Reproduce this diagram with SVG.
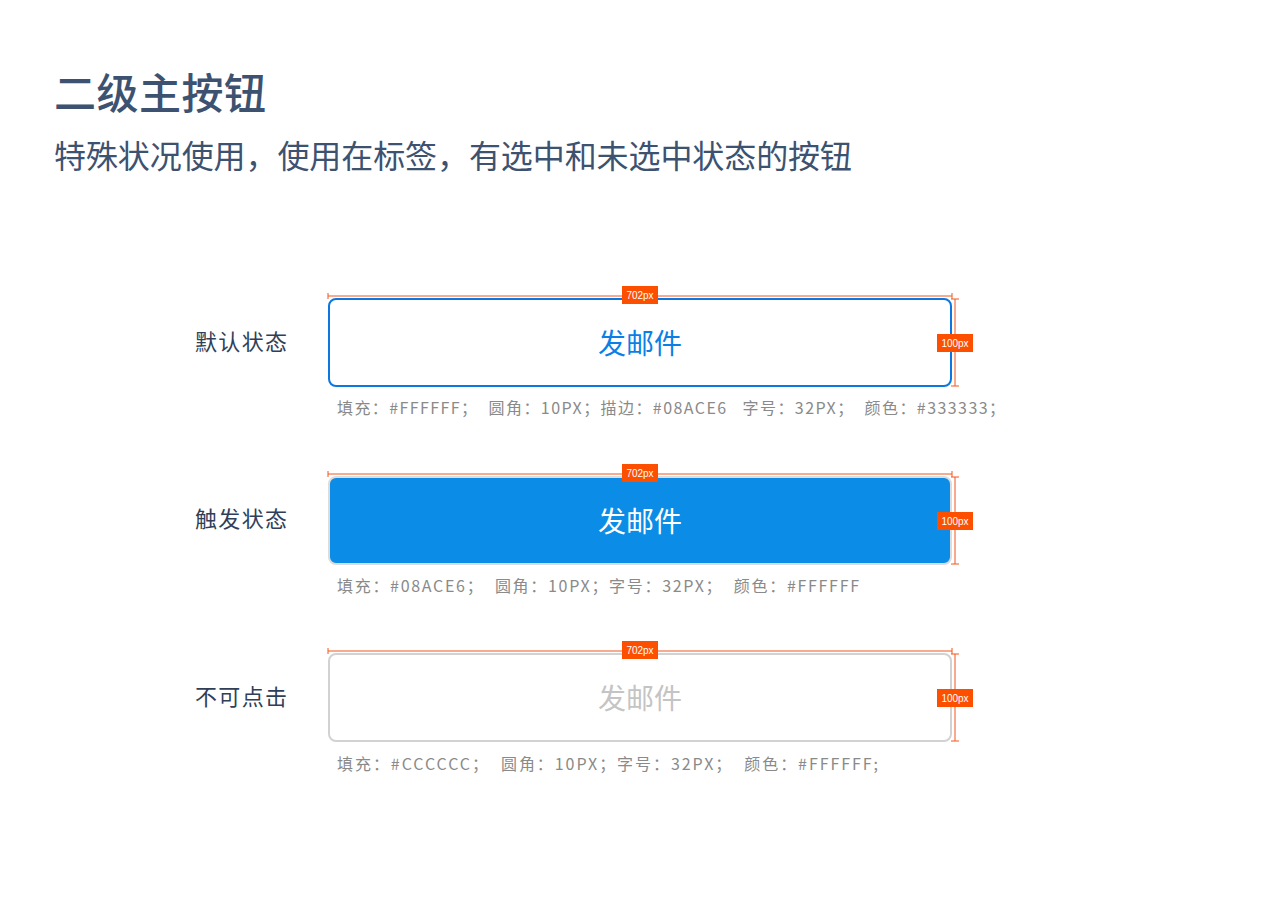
<svg xmlns="http://www.w3.org/2000/svg" width="1280" height="910" viewBox="0 0 1280 910">
<style>
text{font-family:"Noto Sans CJK SC","Liberation Sans",sans-serif}
.h1{font-size:42px;font-weight:500;fill:#3d5270}
.h2{font-size:32px;fill:#3d5270}
.lab{font-size:22px;fill:#2f3f5a}
.spec{font-size:16px;fill:#8a8a8a}
.dim{stroke:#f0561e;stroke-width:1;fill:none}
.tag{fill:#fc5000}
.tt{font-family:"Liberation Sans",sans-serif;font-size:10px;fill:#fff;text-anchor:middle}
.bt{font-size:28px;text-anchor:middle}
</style>
<rect width="1280" height="910" fill="#fff"/>
<text class="h1" x="54" y="109" textLength="212">二级主按钮</text>
<text class="h2" x="54" y="168" textLength="798">特殊状况使用，使用在标签，有选中和未选中状态的按钮</text>
<defs>
<g id="dims">
<path class="dim" d="M328 -3H952M328 -6V0M952 -6V0M955 0V87M951 0H959M951 87H959"/>
<rect class="tag" x="622" y="-13" width="36" height="18"/>
<text class="tt" x="640" y="0">702px</text>
<rect class="tag" x="937" y="35" width="36" height="18"/>
<text class="tt" x="955" y="48">100px</text>
</g>
</defs>
<g id="btn1">
<text class="lab" x="195" y="350" textLength="92">默认状态</text>
<rect x="329" y="299" width="622" height="87" rx="7" fill="#fff" stroke="#0a78e0" stroke-width="2"/>
<text class="bt" x="640" y="354" fill="#0a7fe6">发邮件</text>
<use href="#dims" y="299"/>
<text class="spec" x="337" y="414" textLength="668" xml:space="preserve">填充：#FFFFFF；  圆角：10PX；描边：#08ACE6   字号：32PX；  颜色：#333333；</text>
</g>
<g id="btn2">
<text class="lab" x="195" y="527" textLength="92">触发状态</text>
<rect x="329" y="477" width="622" height="87" rx="7" fill="#0b8ce6" stroke="#dcdcdc" stroke-width="2"/>
<text class="bt" x="640" y="532" fill="#fff">发邮件</text>
<use href="#dims" y="477"/>
<text class="spec" x="337" y="592" textLength="522" xml:space="preserve">填充：#08ACE6；  圆角：10PX；字号：32PX；  颜色：#FFFFFF</text>
</g>
<g id="btn3">
<text class="lab" x="195" y="705" textLength="92">不可点击</text>
<rect x="329" y="654" width="622" height="87" rx="7" fill="#fff" stroke="#d2d2d2" stroke-width="2"/>
<text class="bt" x="640" y="709" fill="#c4c4c4">发邮件</text>
<use href="#dims" y="654"/>
<text class="spec" x="337" y="770" textLength="541" xml:space="preserve">填充：#CCCCCC；  圆角：10PX；字号：32PX；  颜色：#FFFFFF;</text>
</g>
</svg>
